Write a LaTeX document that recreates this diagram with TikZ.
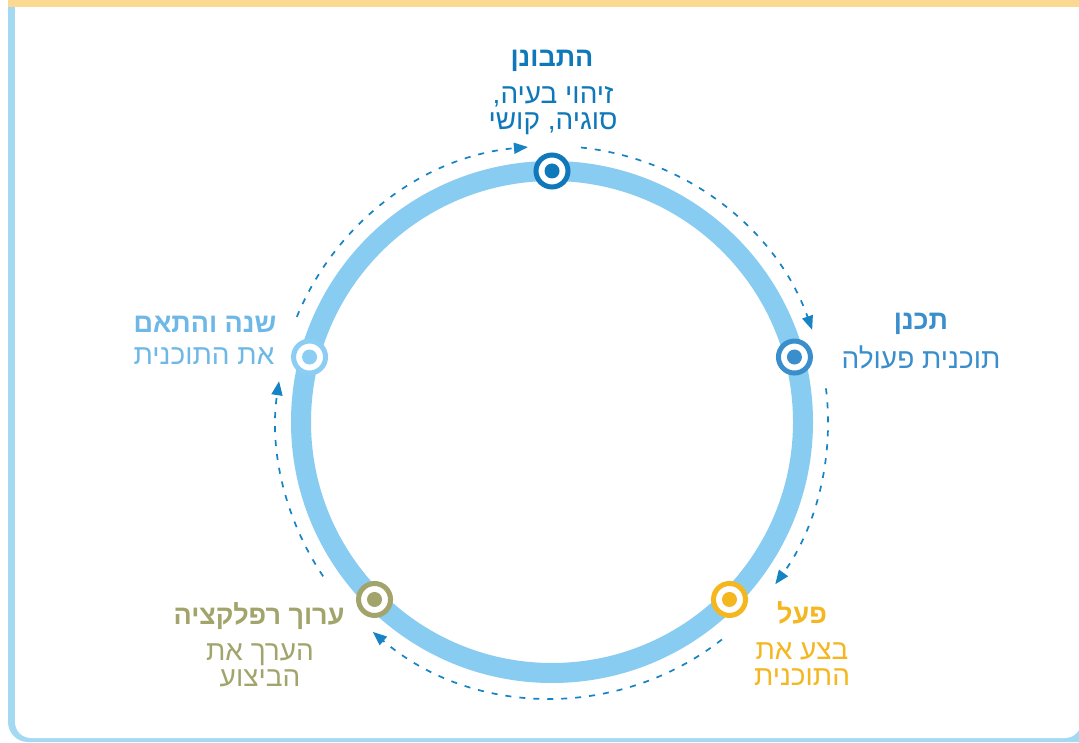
\documentclass[tikz,border=0pt]{standalone}
\usepackage{fontspec}
\newfontfamily\heb[Script=Hebrew]{Liberation Sans}
\TeXXeTstate=1
\usetikzlibrary{arrows.meta,calc}
\definecolor{frameblue}{HTML}{A3DAF2}
\definecolor{frameyellow}{HTML}{FCD992}
\definecolor{ringblue}{HTML}{88CCF1}
\definecolor{arrowblue}{HTML}{1683C4}
\definecolor{cTop}{HTML}{0F78BA}
\definecolor{cRight}{HTML}{3A8ECB}
\definecolor{cYellow}{HTML}{F5B720}
\definecolor{cOlive}{HTML}{A2A46B}
\definecolor{cLeft}{HTML}{8CCEF3}
\definecolor{cLeftText}{HTML}{6DB8E6}
\tikzset{
  marker/.style={circle, draw=#1, line width=5pt, fill=white, minimum size=32pt, inner sep=0pt},
  dot/.style={circle, fill=#1, minimum size=15pt, inner sep=0pt},
  ttl/.style={font=\heb\bfseries\fontsize{27}{28}\selectfont, text=#1, align=center, inner sep=0pt},
  body/.style={font=\heb\fontsize{28}{26}\selectfont, text=#1, align=center, inner sep=0pt},
  dasharr/.style={arrowblue, line width=1.7pt, dash pattern=on 6pt off 8pt, -{Triangle[length=14pt,width=11pt]}},
}
\begin{document}
\begin{tikzpicture}[x=1pt,y=1pt]
\useasboundingbox (0,0) rectangle (1079,742);
% frame
\fill[frameblue, rounded corners=20pt] (8,0) rectangle (1200,760);
\fill[white, rounded corners=16pt] (15,4) rectangle (1081,760);
\fill[frameyellow] (8,735) rectangle (1079,742);
% ring
\coordinate (C) at (552,320);
\draw[ringblue, line width=20pt] (C) circle (251);
% markers
\node[marker=cTop] (nTop) at ($(C)+(90:251)$) {};
\node[dot=cTop] at (nTop) {};
\node[marker=cRight] (nRight) at ($(C)+(15:251)$) {};
\node[dot=cRight] at (nRight) {};
\node[marker=cYellow] (nBR) at ($(C)+(-45:251)$) {};
\node[dot=cYellow] at (nBR) {};
\node[marker=cOlive] (nBL) at ($(C)+(-135:251)$) {};
\node[dot=cOlive] at (nBL) {};
\node[marker=cLeft] (nLeft) at ($(C)+(165:251)$) {};
\node[dot=cLeft] at (nLeft) {};
% dashed arrows
\coordinate (s1) at ($(C)+(157.6:276)$);
\coordinate (s2) at ($(C)+(84:276)$);
\coordinate (s3) at ($(C)+(7:276)$);
\coordinate (s4) at ($(C)+(-52:276)$);
\coordinate (s5) at ($(C)+(-146:276)$);
\draw[dasharr] (s1) arc[start angle=157.6, end angle=95, radius=276];
\draw[dasharr] (s2) arc[start angle=84, end angle=19.5, radius=276];
\draw[dasharr] (s3) arc[start angle=7, end angle=-36, radius=276];
\draw[dasharr] (s4) arc[start angle=-52, end angle=-130.5, radius=276];
\draw[dasharr] (s5) arc[start angle=-146, end angle=-188.5, radius=276];
% labels
\node[ttl=cTop] (tTop) at (552,681) {\beginR התבונן\endR};
\node[body=cTop] (bTop) at (553,631) {\beginR זיהוי בעיה,\endR\\\beginR סוגיה, קושי\endR};
\node[ttl=cRight] (tRight) at (921,418) {\beginR תכנן\endR};
\node[body=cRight] (bRight) at (921,385) {\beginR תוכנית פעולה\endR};
\node[ttl=cLeftText] (tLeft) at (205,418) {\beginR שנה והתאם\endR};
\node[body=cLeftText] (bLeft) at (204,386) {\beginR את התוכנית\endR};
\node[ttl=cYellow] (tBR) at (802,129) {\beginR פעל\endR};
\node[body=cYellow] (bBR) at (802,78) {\beginR בצע את\endR\\\beginR התוכנית\endR};
\node[ttl=cOlive] (tBL) at (259,126) {\beginR ערוך רפלקציה\endR};
\node[body=cOlive] (bBL) at (260,77) {\beginR הערך את\endR\\\beginR הביצוע\endR};
\end{tikzpicture}
\end{document}
